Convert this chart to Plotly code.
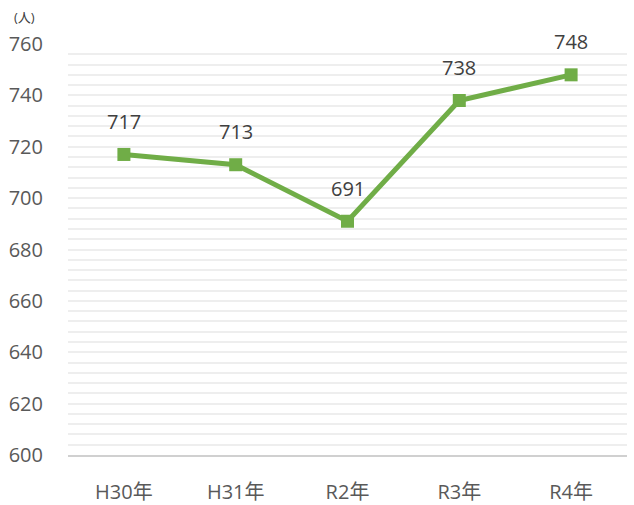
import plotly.graph_objects as go

categories = ["H30年", "H31年", "R2年", "R3年", "R4年"]
values = [717, 713, 691, 738, 748]
y_ticks = [600, 620, 640, 660, 680, 700, 720, 740, 760]

FONT = "Open Sans, Noto Sans CJK JP, sans-serif"

fig = go.Figure()
fig.add_trace(go.Scatter(
    x=categories, y=values, mode="lines+markers",
    line=dict(color="#70ad47", width=5),
    marker=dict(symbol="square", size=13, color="#70ad47"),
    hoverinfo="skip", showlegend=False,
))
for c, v in zip(categories, values):
    fig.add_annotation(x=c, y=v, text=str(v), showarrow=False, yshift=33,
                       font=dict(size=20, color="#404040", family=FONT))

fig.add_annotation(xref="paper", yref="paper", x=-0.1, y=1.04, xanchor="left", yanchor="bottom",
                   text="(人)", showarrow=False, font=dict(size=13, color="#404040", family=FONT))

fig.update_layout(
    width=634, height=505,
    margin=dict(l=68, r=7, t=44, b=50),
    paper_bgcolor="white", plot_bgcolor="white",
    xaxis=dict(
        showgrid=False, showline=True, linecolor="#d0d0d0", linewidth=1.5,
        ticks="outside", ticklen=18, tickcolor="rgba(0,0,0,0)",
        tickfont=dict(size=20, color="#595959", family=FONT),
        range=[-0.5, 4.5], fixedrange=True, automargin=False,
    ),
    yaxis=dict(
        range=[600, 760], tickmode="array", tickvals=y_ticks,
        showgrid=True, gridcolor="#eeeeee", gridwidth=2, zeroline=False,
        ticks="outside", ticklen=20, tickcolor="rgba(0,0,0,0)",
        tickfont=dict(size=20, color="#595959", family=FONT),
        minor=dict(dtick=4, showgrid=True, gridcolor="#eeeeee", gridwidth=2),
        fixedrange=True, automargin=False,
    ),
)
fig.write_html("out.html", config={"displayModeBar": False},
               post_script="document.body.style.margin='0';document.body.style.overflow='hidden';")
